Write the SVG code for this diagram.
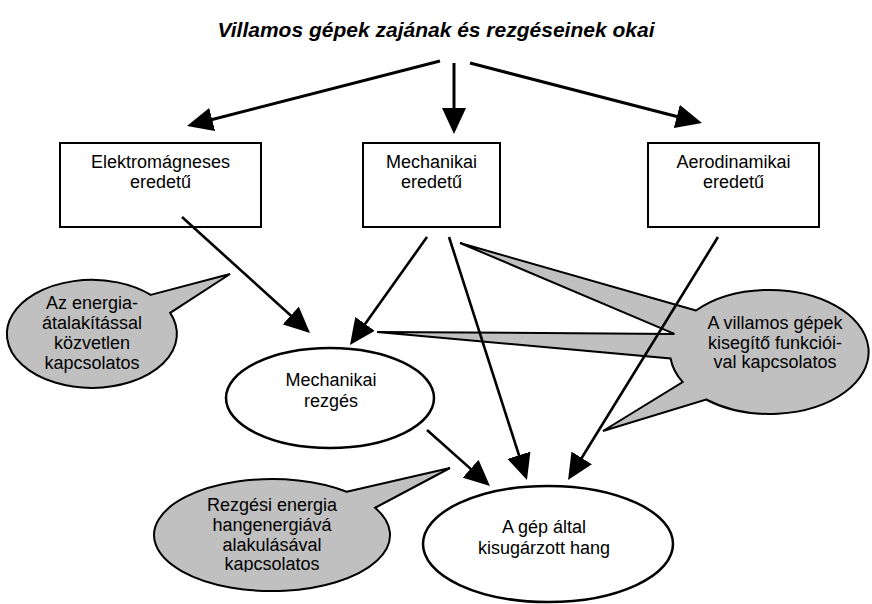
<svg xmlns="http://www.w3.org/2000/svg" width="872" height="604" viewBox="0 0 872 604">
<style>
  text { font-family: "Liberation Sans", Arial, sans-serif; font-size: 18px; fill: #000; text-anchor: middle; }
  .title { font-size: 21px; font-weight: bold; font-style: italic; }
  .box { fill: #fff; stroke: #000; stroke-width: 2; }
  .ell { fill: #fff; stroke: #000; stroke-width: 2.5; }
  .call { fill: #c0c0c0; stroke: #000; stroke-width: 2; stroke-linejoin: miter; }
  .con { fill: none; stroke: #000; stroke-width: 2.6; }
  .thick { stroke-width: 3; }
</style>
<defs>
  <marker id="ah" markerUnits="userSpaceOnUse" markerWidth="26" markerHeight="24" refX="16" refY="12" orient="auto">
    <path d="M0,0 L26,12 L0,24 Z" fill="#000"/>
  </marker>
  <clipPath id="clipBL"><rect x="140" y="470" width="270" height="102"/></clipPath>
</defs>
<rect width="872" height="604" fill="#fff"/>

<text class="title" x="436" y="37">Villamos gépek zajának és rezgéseinek okai</text>

<g id="node-elektromagneses">
  <rect class="box" x="60" y="143" width="201" height="84"/>
  <text x="160.5" y="168">Elektromágneses</text>
  <text x="160.5" y="188">eredetű</text>
</g>
<g id="node-mechanikai-eredetu">
  <rect class="box" x="363" y="143" width="137" height="84"/>
  <text x="431.5" y="168">Mechanikai</text>
  <text x="431.5" y="188">eredetű</text>
</g>
<g id="node-aerodinamikai">
  <rect class="box" x="648" y="143" width="171" height="84"/>
  <text x="733.5" y="168">Aerodinamikai</text>
  <text x="733.5" y="188">eredetű</text>
</g>

<g id="node-mechanikai-rezges">
  <ellipse class="ell" cx="330" cy="398" rx="104" ry="50"/>
  <text x="331" y="386">Mechanikai</text>
  <text x="331" y="407">rezgés</text>
</g>
<g id="node-kisugarzott-hang">
  <ellipse class="ell" cx="548" cy="544" rx="125" ry="58"/>
  <text x="544" y="533">A gép által</text>
  <text x="544" y="554">kisugárzott hang</text>
</g>

<g id="callout-energiaatalakitas">
  <path class="call" d="M150.7,294.9 L230,274 L170.2,312.9 A85,54 0 1 1 150.7,294.9 Z"/>
  <text x="92" y="309">Az energia-</text>
  <text x="92" y="329">átalakítással</text>
  <text x="92" y="349">közvetlen</text>
  <text x="92" y="369">kapcsolatos</text>
</g>
<g id="callout-kisegito">
  <path class="call" d="M696,310.5 L460,243 L674.4,333.9 L377,332 L670.6,358.5 A99,62 0 0 0 682.7,382.1 L603,431 L706.1,399.5 A99,62 0 1 0 696,310.5 Z"/>
  <text x="775" y="329">A villamos gépek</text>
  <text x="775" y="349">kisegítő funkciói-</text>
  <text x="775" y="368">val kapcsolatos</text>
</g>
<g id="callout-hangenergia">
  <path class="call" d="M346.7,491.7 L450,468 L375.1,507.8 A118,56 0 1 1 346.7,491.7 Z"/>
  <g clip-path="url(#clipBL)">
    <text x="272" y="511">Rezgési energia</text>
    <text x="272" y="531">hangenergiává</text>
    <text x="272" y="551">alakulásával</text>
    <text x="272" y="570">kapcsolatos</text>
  </g>
</g>

<g id="connectors">
  <line class="con thick" x1="440" y1="61" x2="196.7" y2="123.5" marker-end="url(#ah)"/>
  <line class="con thick" x1="454" y1="63" x2="454" y2="124" marker-end="url(#ah)"/>
  <line class="con thick" x1="470" y1="63" x2="692.3" y2="120.5" marker-end="url(#ah)"/>
  <line class="con" x1="182" y1="217" x2="302.6" y2="326.3" marker-end="url(#ah)"/>
  <line class="con" x1="427" y1="237" x2="355.8" y2="336.9" marker-end="url(#ah)"/>
  <line class="con" x1="449" y1="237" x2="523.9" y2="470.5" marker-end="url(#ah)"/>
  <line class="con" x1="718" y1="237" x2="573.3" y2="471.5" marker-end="url(#ah)"/>
  <line class="con" x1="427" y1="430" x2="482.5" y2="479.4" marker-end="url(#ah)"/>
</g>
</svg>
